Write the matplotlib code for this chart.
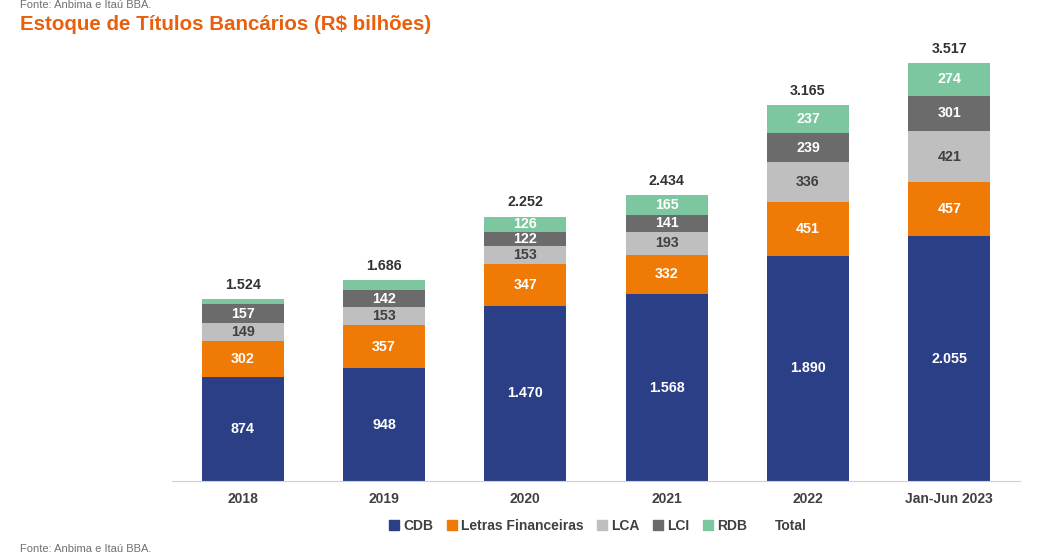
import numpy as np
import matplotlib.pyplot as plt
from matplotlib.patches import Patch

plt.rcParams['font.family'] = ['Liberation Sans', 'DejaVu Sans']

anos = ['2018', '2019', '2020', '2021', '2022', 'Jan-Jun 2023']
cdb = [874, 948, 1470, 1568, 1890, 2055]
lf = [302, 357, 347, 332, 451, 457]
lca = [149, 153, 153, 193, 336, 421]
lci = [157, 142, 122, 141, 239, 301]
rdb = [42, 86, 126, 165, 237, 274]
total = [1524, 1686, 2252, 2434, 3165, 3517]

series = [('CDB', cdb, '#2B3F86', 'white'),
          ('Letras Financeiras', lf, '#F07A06', 'white'),
          ('LCA', lca, '#BFBFBF', '#404040'),
          ('LCI', lci, '#6B6B6B', 'white'),
          ('RDB', rdb, '#7CC79F', 'white')]

def fmt(v):
    return f'{v:,}'.replace(',', '.')

fig = plt.figure(figsize=(10.54, 5.55), dpi=100)
ax = fig.add_axes([172/1054, 74/555, 848/1054, 441/555])
x = np.arange(len(anos))
bottom = np.zeros(len(anos))
for name, vals, color, tc in series:
    ax.bar(x, vals, 0.58, bottom=bottom, color=color, label=name)
    for i, v in enumerate(vals):
        if v >= 100:
            ax.text(x[i], bottom[i] + v / 2, fmt(v), ha='center', va='center',
                    color=tc, fontsize=10.3, fontweight='bold')
    bottom += np.array(vals)

for i, t in enumerate(total):
    ax.text(x[i], bottom[i] + 60, fmt(t), ha='center', va='bottom',
            color='#333333', fontsize=10.3, fontweight='bold')

ax.set_xlim(-0.5, len(anos) - 0.5)
ax.set_ylim(0, 3700)
ax.set_yticks([])
ax.set_xticks(x)
ax.set_xticklabels(anos, fontsize=10, fontweight='bold', color='#404040')
ax.tick_params(axis='x', length=0, pad=8)
for s in ['top', 'right', 'left']:
    ax.spines[s].set_visible(False)
ax.spines['bottom'].set_color('#D0D0D0')

handles = [Patch(color=c, label=n) for n, _, c, _ in series]
handles.append(Patch(color='none', label='Total'))
fig.legend(handles=handles, loc='center', bbox_to_anchor=(598/1054, 1 - 526/555),
           ncol=6, frameon=False, handlelength=0.7, handleheight=0.7,
           handletextpad=0.3, columnspacing=1.0,
           prop={'size': 10, 'weight': 'bold'}, labelcolor='#404040')

fig.text(20/1054, 1 - 5/555, 'Fonte: Anbima e Itaú BBA.', fontsize=8, color='#707070', va='center')
fig.text(20/1054, 1 - 25/555, 'Estoque de Títulos Bancários (R$ bilhões)', fontsize=14.8,
         fontweight='bold', color='#E8600E', va='center')
fig.text(20/1054, 1 - 549/555, 'Fonte: Anbima e Itaú BBA.', fontsize=8, color='#707070', va='center')

fig.savefig('out.png', dpi=100)
